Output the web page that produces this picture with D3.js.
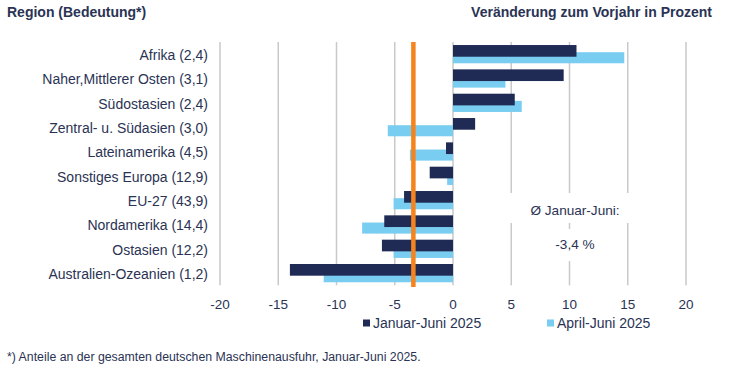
<!DOCTYPE html>
<html>
<head>
<meta charset="utf-8">
<script src="https://cdn.jsdelivr.net/npm/d3@7"></script>
<style>
  html, body { margin: 0; padding: 0; background: #fff; }
  svg { display: block; font-family: 'Liberation Sans', Arial, sans-serif; }
</style>
</head>
<body>
<div id="chart"></div>
<script>
(function () {
  'use strict';

  // regions (share of German machinery exports, Jan-Jun 2025)
  const categories = [
    'Afrika (2,4)', 'Naher,Mittlerer Osten (3,1)', 'Südostasien (2,4)',
    'Zentral- u. Südasien (3,0)', 'Lateinamerika (4,5)', 'Sonstiges Europa (12,9)',
    'EU-27 (43,9)', 'Nordamerika (14,4)', 'Ostasien (12,2)', 'Australien-Ozeanien (1,2)'
  ];
  // change vs previous year, percent
  const janJun = [10.6, 9.5, 5.3, 1.9, -0.6, -2.0, -4.2, -5.9, -6.1, -14.0];
  const aprJun = [14.7, 4.5, 5.9, -5.6, -3.7, -0.5, -5.1, -7.8, -5.1, -11.1];
  const avgJanJun = -3.4;
  const xTicks = [-20, -15, -10, -5, 0, 5, 10, 15, 20];
  const seriesNames = ['Januar-Juni 2025', 'April-Juni 2025'];

  const TXT = '#2a3354', DARK = '#1f2a55', LIGHT = '#78cdf0', ORANGE = '#f5841f', GRID = '#c9c9c9';
  const W = 755, H = 376;
  const plot = { left: 220, right: 686, top: 42, bottom: 285.3 };

  const svg = d3.select('#chart').append('svg').attr('width', W).attr('height', H);

  const x = d3.scaleLinear().domain([-20, 20]).range([plot.left, plot.right]);
  const y = d3.scaleBand().domain(categories).range([plot.top, plot.bottom]).padding(0);
  const bw = y.bandwidth();

  // headers
  svg.append('text').attr('x', 7).attr('y', 17)
    .style('font-size', '14px').style('font-weight', 'bold').style('fill', TXT)
    .text('Region (Bedeutung*)');
  svg.append('text').attr('x', 712).attr('y', 17).attr('text-anchor', 'end')
    .style('font-size', '14px').style('font-weight', 'bold').style('fill', TXT)
    .text('Veränderung zum Vorjahr in Prozent');

  // gridlines
  svg.selectAll('.gx').data(xTicks).enter().append('line')
    .attr('x1', d => x(d)).attr('x2', d => x(d))
    .attr('y1', plot.top).attr('y2', plot.bottom)
    .attr('stroke', GRID).attr('stroke-width', 1.5);

  // tick labels
  svg.selectAll('.tx').data(xTicks).enter().append('text')
    .attr('x', d => x(d)).attr('y', 308.5).attr('text-anchor', 'middle')
    .style('font-size', '13.5px').style('fill', TXT)
    .text(d => d);

  // category labels
  svg.selectAll('.cl').data(categories).enter().append('text')
    .attr('x', 208).attr('y', d => y(d) + bw / 2 + 1).attr('dy', '0.35em')
    .attr('text-anchor', 'end')
    .style('font-size', '14px').style('fill', TXT)
    .text(d => d);

  // light bars first, dark on top
  svg.selectAll('.bl').data(aprJun).enter().append('rect')
    .attr('x', d => x(Math.min(0, d))).attr('width', d => Math.abs(x(d) - x(0)))
    .attr('y', (d, i) => y(categories[i]) + bw * 0.42).attr('height', bw * 0.455)
    .attr('fill', LIGHT);
  svg.selectAll('.bd').data(janJun).enter().append('rect')
    .attr('x', d => x(Math.min(0, d))).attr('width', d => Math.abs(x(d) - x(0)))
    .attr('y', (d, i) => y(categories[i]) + bw * 0.125).attr('height', bw * 0.48)
    .attr('fill', DARK);

  // average line
  svg.append('line').attr('x1', x(avgJanJun)).attr('x2', x(avgJanJun))
    .attr('y1', plot.top).attr('y2', 287)
    .attr('stroke', ORANGE).attr('stroke-width', 4.5);

  // annotation boxes
  svg.append('rect').attr('x', 503).attr('y', 193).attr('width', 142).attr('height', 30).attr('fill', '#fff');
  svg.append('rect').attr('x', 540).attr('y', 229).attr('width', 70).attr('height', 32).attr('fill', '#fff');
  svg.append('text').attr('x', 575).attr('y', 215).attr('text-anchor', 'middle')
    .style('font-size', '13.6px').style('fill', TXT).text('Ø Januar-Juni:');
  svg.append('text').attr('x', 575).attr('y', 249).attr('text-anchor', 'middle')
    .style('font-size', '13.6px').style('fill', TXT).text(String(avgJanJun).replace('.', ',') + ' %');

  // legend
  const legend = [{ name: seriesNames[0], color: DARK, x: 363 }, { name: seriesNames[1], color: LIGHT, x: 547 }];
  legend.forEach(l => {
    svg.append('rect').attr('x', l.x).attr('y', 319.5).attr('width', 7).attr('height', 7).attr('fill', l.color);
    svg.append('text').attr('x', l.x + 10).attr('y', 327.5)
      .style('font-size', '14px').style('fill', TXT).text(l.name);
  });

  // footnote
  svg.append('text').attr('x', 7).attr('y', 361)
    .style('font-size', '12.3px').style('fill', TXT)
    .text('*) Anteile an der gesamten deutschen Maschinenausfuhr, Januar-Juni 2025.');
})();
</script>
</body>
</html>
